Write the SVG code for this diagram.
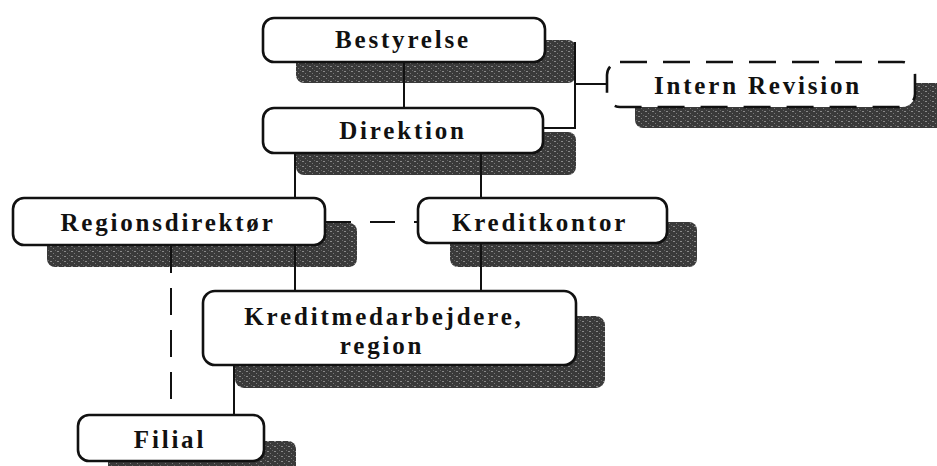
<svg xmlns="http://www.w3.org/2000/svg" width="937" height="466" viewBox="0 0 937 466">
  <defs>
    <!-- mottled dark fill for the drop shadows -->
    <pattern id="grain" width="7" height="5" patternUnits="userSpaceOnUse">
      <rect width="7" height="5" fill="#3a3a3a"/>
      <rect x="1" y="1" width="2" height="1" fill="#8a8a8a"/>
      <rect x="4" y="3" width="1" height="1" fill="#7a7a7a"/>
      <rect x="6" y="0" width="1" height="1" fill="#666"/>
    </pattern>
    <style>
      .shadow { fill: url(#grain); }
      .box { fill: #fff; stroke: #111; stroke-width: 2.6; }
      .dashed { stroke-dasharray: 27 16; }
      .label { font-family: "Liberation Serif", "Times New Roman", serif; font-weight: bold; font-size: 25px; letter-spacing: 2.8px; fill: #111; text-anchor: middle; }
      .link { stroke: #111; stroke-width: 2; fill: none; }
      .link.dash1 { stroke-dasharray: 25 19; }
      .link.dash2 { stroke-dasharray: 27 15; }
    </style>
  </defs>
  <rect width="937" height="466" fill="#fff"/>

  <g id="bestyrelse">
    <rect class="shadow" x="296" y="40" width="280" height="43" rx="8"/>
    <rect class="box" x="263" y="18" width="282" height="44" rx="11"/>
    <text class="label" x="403" y="48">Bestyrelse</text>
  </g>

  <g id="direktion">
    <rect class="shadow" x="296" y="132" width="280" height="43" rx="8"/>
    <rect class="box" x="263" y="108" width="280" height="45" rx="11"/>
    <text class="label" x="403" y="139">Direktion</text>
  </g>

  <g id="intern-revision">
    <rect class="shadow" x="635" y="83" width="310" height="45" rx="8"/>
    <rect class="box dashed" x="607" y="62" width="308" height="45" rx="13"/>
    <text class="label" x="758" y="94">Intern Revision</text>
  </g>

  <g id="regionsdirektoer">
    <rect class="shadow" x="47" y="223" width="310" height="44" rx="8"/>
    <rect class="box" x="13" y="198" width="312" height="47" rx="11"/>
    <text class="label" x="168" y="231">Regionsdirektør</text>
  </g>

  <g id="kreditkontor">
    <rect class="shadow" x="450" y="222" width="247" height="45" rx="8"/>
    <rect class="box" x="418" y="198" width="249" height="45" rx="11"/>
    <text class="label" x="540" y="231">Kreditkontor</text>
  </g>

  <g id="kreditmedarbejdere">
    <rect class="shadow" x="235" y="316" width="370" height="72" rx="9"/>
    <rect class="box" x="203" y="291" width="373" height="74" rx="12"/>
    <text class="label" x="384" y="325">Kreditmedarbejdere,</text>
    <text class="label" x="382" y="354">region</text>
  </g>

  <g id="filial">
    <rect class="shadow" x="108" y="441" width="188" height="46" rx="8"/>
    <rect class="box" x="78" y="415" width="186" height="46" rx="11"/>
    <text class="label" x="170" y="448">Filial</text>
  </g>

  <g id="connectors">
    <!-- Bestyrelse to Direktion -->
    <line class="link" x1="404" y1="63" x2="404" y2="107"/>
    <!-- bracket on the right, leading off to Intern Revision -->
    <polyline class="link" points="544,128 575,128 575,42"/>
    <line class="link" x1="575" y1="84" x2="606" y2="84"/>
    <!-- Direktion down to Regionsdirektør and on to Kreditmedarbejdere -->
    <line class="link" x1="295" y1="154" x2="295" y2="197"/>
    <line class="link" x1="295" y1="246" x2="295" y2="290"/>
    <!-- Direktion down to Kreditkontor and on to Kreditmedarbejdere -->
    <line class="link" x1="481" y1="154" x2="481" y2="197"/>
    <line class="link" x1="481" y1="244" x2="481" y2="290"/>
    <!-- Regionsdirektør to Kreditkontor, dashed -->
    <line class="link dash1" x1="326" y1="222" x2="417" y2="222"/>
    <!-- Regionsdirektør to Filial, dashed -->
    <line class="link dash2" x1="171" y1="246" x2="171" y2="414"/>
    <!-- Kreditmedarbejdere to Filial -->
    <line class="link" x1="234" y1="366" x2="234" y2="414"/>
  </g>
</svg>
